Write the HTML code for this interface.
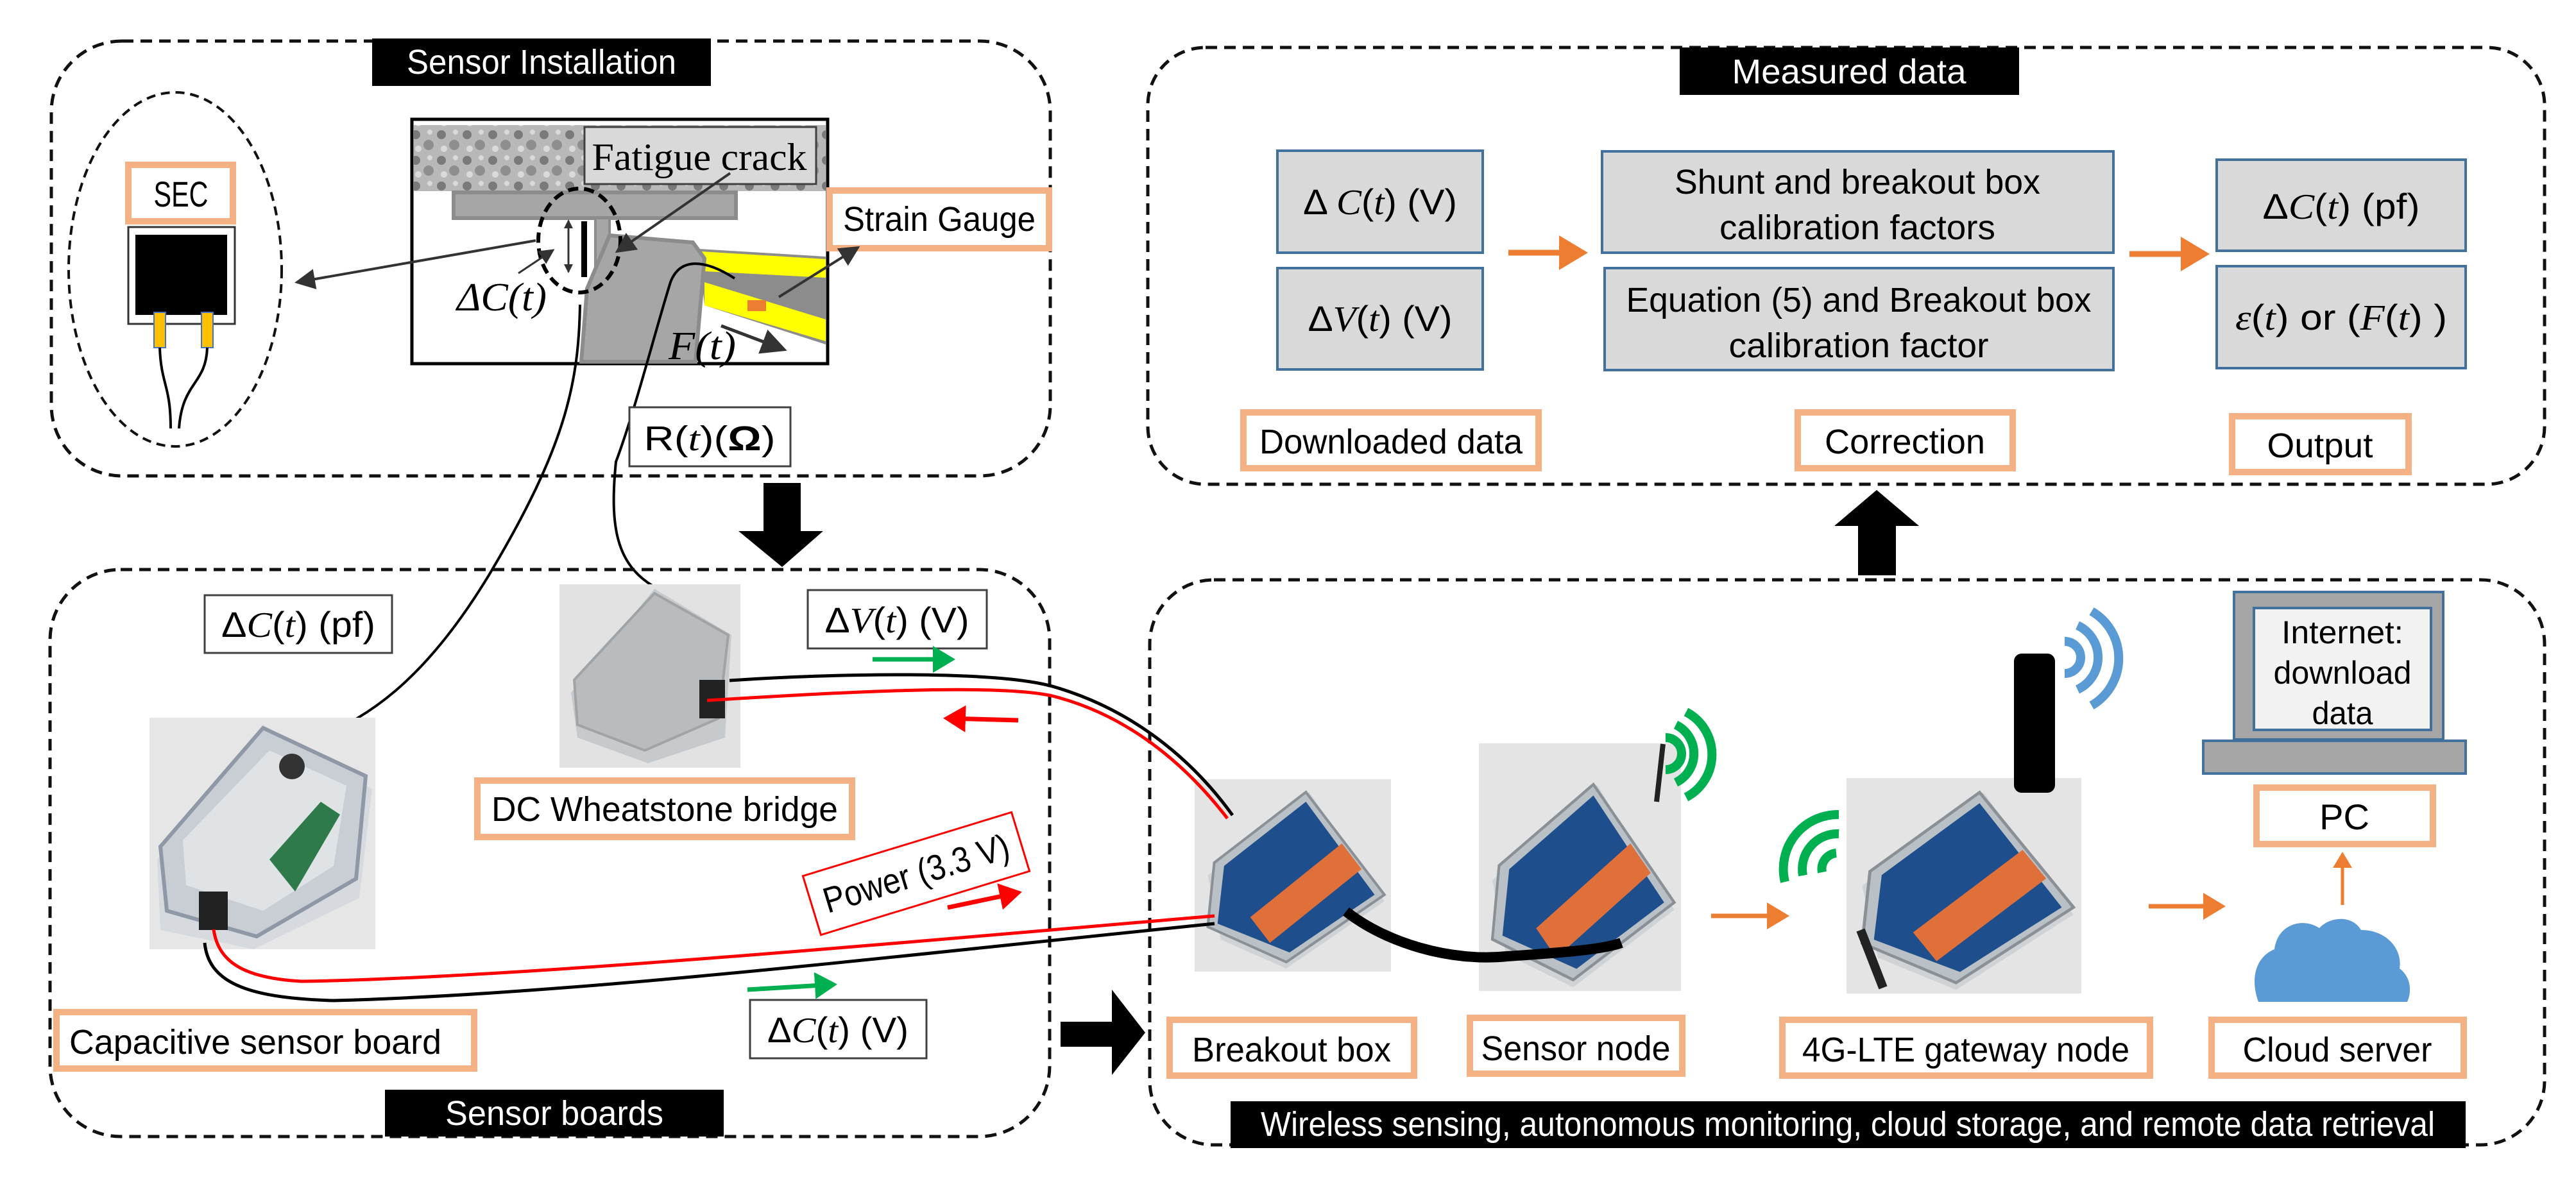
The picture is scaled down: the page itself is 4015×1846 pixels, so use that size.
<!DOCTYPE html>
<html><head><meta charset="utf-8"><style>
html,body{margin:0;padding:0;background:#fff}
svg{display:block}
.s{font-family:"Liberation Sans",sans-serif}
.m{font-family:"Liberation Serif",serif;font-style:italic}
</style></head><body>
<svg width="4015" height="1846" viewBox="0 0 4015 1846" xmlns="http://www.w3.org/2000/svg">
<defs>
<marker id="ah" markerWidth="8" markerHeight="8" refX="7" refY="4" orient="auto" markerUnits="strokeWidth"><path d="M0,0 L8,4 L0,8 z" fill="#333"/></marker>
<marker id="ao" markerWidth="5" markerHeight="6" refX="4" refY="3" orient="auto" markerUnits="strokeWidth"><path d="M0,0 L5,3 L0,6 z" fill="#ed7d31"/></marker>
<marker id="ag" markerWidth="5" markerHeight="6" refX="4" refY="3" orient="auto" markerUnits="strokeWidth"><path d="M0,0 L5,3 L0,6 z" fill="#00b050"/></marker>
<marker id="ar" markerWidth="5" markerHeight="6" refX="4" refY="3" orient="auto" markerUnits="strokeWidth"><path d="M0,0 L5,3 L0,6 z" fill="#ff0000"/></marker>
<pattern id="tex" width="40" height="40" patternUnits="userSpaceOnUse">
<rect width="40" height="40" fill="#b8b8b8"/><circle cx="8" cy="10" r="7" fill="#7a7a7a"/><circle cx="28" cy="26" r="8" fill="#8e8e8e"/><circle cx="30" cy="6" r="4" fill="#d8d8d8"/><circle cx="12" cy="32" r="5" fill="#dadada"/>
</pattern>
<g id="dev">
<rect x="0" y="0" width="300" height="300" fill="#e4e4e4"/>
<polygon points="20,150 175,20 290,190 140,295 40,250" fill="#cfd3d6"/>
<polygon points="30,130 170,20 290,180 140,285 20,230" fill="#b9c0c6" stroke="#8a9096" stroke-width="4"/>
<polygon points="45,135 170,35 275,180 145,270 35,225" fill="#1f4e8c"/>
<polygon points="85,215 225,100 255,140 115,255" fill="#e0703a"/>
</g>
</defs>

<!-- ========== Sensor Installation ========== -->
<rect x="80" y="64" width="1557" height="678" rx="110" fill="none" stroke="#111" stroke-width="5" stroke-dasharray="18,11"/>
<rect x="580" y="60" width="528" height="74" fill="#000"/>
<text x="844" y="115" class="s" font-size="54" fill="#fff" text-anchor="middle" textLength="420" lengthAdjust="spacingAndGlyphs">Sensor Installation</text>

<ellipse cx="273" cy="420" rx="166" ry="276" fill="none" stroke="#111" stroke-width="4" stroke-dasharray="14,9"/>
<rect x="200" y="257" width="163" height="88" fill="#fff" stroke="#f4b183" stroke-width="10"/>
<text x="282" y="322" class="s" font-size="56" text-anchor="middle" textLength="85" lengthAdjust="spacingAndGlyphs">SEC</text>
<rect x="200" y="354" width="166" height="151" fill="#fff" stroke="#333" stroke-width="3"/>
<rect x="211" y="366" width="143" height="125" fill="#000"/>
<rect x="240" y="487" width="18" height="55" fill="#ffc000" stroke="#4472c4" stroke-width="2"/>
<rect x="314" y="487" width="18" height="55" fill="#ffc000" stroke="#4472c4" stroke-width="2"/>
<path d="M249,542 C251,600 266,600 266,668 M323,542 C321,600 284,595 279,668" fill="none" stroke="#000" stroke-width="4"/>

<!-- diagram frame -->
<rect x="642" y="186" width="648" height="381" fill="#fff" stroke="#000" stroke-width="5"/>
<rect x="645" y="195" width="642" height="103" fill="url(#tex)"/>
<rect x="707" y="300" width="440" height="40" fill="#a6a6a6" stroke="#8c8c8c" stroke-width="6"/>
<rect x="928" y="340" width="22" height="225" fill="#a6a6a6" stroke="#8c8c8c" stroke-width="4"/>
<polygon points="1089,388 1287,400 1287,537 1098,476" fill="#8c8c8c"/>
<polygon points="1092,392 1287,404 1287,433 1098,423" fill="#ffff00"/>
<polygon points="1098,440 1287,498 1287,532 1098,476" fill="#ffff00"/>
<polygon points="950,367 1080,378 1098,403 1084,564 906,564 915,450" fill="#a6a6a6" stroke="#8c8c8c" stroke-width="6"/>
<rect x="1165" y="468" width="29" height="17" fill="#ed7d31"/>
<rect x="906" y="345" width="9" height="87" fill="#000"/>
<line x1="886" y1="344" x2="886" y2="424" stroke="#333" stroke-width="3"/>
<path d="M879,356 L886,342 L893,356 Z M879,412 L886,426 L893,412 Z" fill="#333"/>
<ellipse cx="903" cy="375" rx="64" ry="81" fill="none" stroke="#000" stroke-width="6" stroke-dasharray="16,9"/>
<rect x="911" y="198" width="361" height="89" fill="#d9d9d9" stroke="#404040" stroke-width="3"/>
<text x="1090" y="265" font-family="Liberation Serif,serif" font-size="60" text-anchor="middle" textLength="335" lengthAdjust="spacingAndGlyphs">Fatigue crack</text>
<line x1="1138" y1="270" x2="962" y2="392" stroke="#333" stroke-width="4" marker-end="url(#ah)"/>
<text x="712" y="484" class="m" font-size="62" textLength="140" lengthAdjust="spacingAndGlyphs">ΔC(t)</text>
<line x1="808" y1="426" x2="862" y2="390" stroke="#333" stroke-width="3" marker-end="url(#ah)"/>
<text x="1042" y="560" class="m" font-size="62" textLength="105" lengthAdjust="spacingAndGlyphs">F(t)</text>
<line x1="1124" y1="508" x2="1222" y2="545" stroke="#333" stroke-width="5" marker-end="url(#ah)"/>
<line x1="835" y1="375" x2="463" y2="440" stroke="#333" stroke-width="4" marker-end="url(#ah)"/>
<rect x="1293" y="297" width="342" height="90" fill="#fff" stroke="#f4b183" stroke-width="10"/>
<text x="1464" y="360" class="s" font-size="54" text-anchor="middle" textLength="300" lengthAdjust="spacingAndGlyphs">Strain Gauge</text>
<line x1="1214" y1="463" x2="1337" y2="386" stroke="#333" stroke-width="4" marker-end="url(#ah)"/>
<!-- wires from frame -->
<path d="M904,475 C902,600 880,700 760,900 C650,1080 560,1120 500,1150" fill="none" stroke="#000" stroke-width="4"/>
<path d="M1145,434 C1100,405 1060,400 1045,440 C1020,520 990,640 960,720 C950,820 960,880 1020,915" fill="none" stroke="#000" stroke-width="4"/>
<rect x="981" y="635" width="251" height="92" fill="#fff" stroke="#404040" stroke-width="3"/>
<text x="1106" y="702" class="s" font-size="54" text-anchor="middle" textLength="205" lengthAdjust="spacingAndGlyphs">R(<tspan class="m">t</tspan>)(<tspan font-weight="bold">Ω</tspan>)</text>

<!-- black arrow down -->
<polygon points="1190,753 1248,753 1248,828 1283,828 1219,884 1151,828 1190,828" fill="#000"/>

<!-- ========== Measured data ========== -->
<rect x="1789" y="74" width="2177" height="681" rx="90" fill="none" stroke="#111" stroke-width="5" stroke-dasharray="18,11"/>
<rect x="2618" y="74" width="529" height="74" fill="#000"/>
<text x="2882" y="130" class="s" font-size="54" fill="#fff" text-anchor="middle" textLength="365" lengthAdjust="spacingAndGlyphs">Measured data</text>
<g fill="#d9d9d9" stroke="#41719c" stroke-width="4">
<rect x="1991" y="235" width="320" height="159"/>
<rect x="1991" y="418" width="320" height="158"/>
<rect x="2497" y="236" width="797" height="158"/>
<rect x="2501" y="418" width="793" height="159"/>
<rect x="3455" y="249" width="388" height="142"/>
<rect x="3455" y="415" width="388" height="159"/>
</g>
<text x="2151" y="334" class="s" font-size="56" text-anchor="middle" textLength="240" lengthAdjust="spacingAndGlyphs">Δ <tspan class="m">C</tspan>(<tspan class="m">t</tspan>) (V)</text>
<text x="2151" y="516" class="s" font-size="56" text-anchor="middle" textLength="225" lengthAdjust="spacingAndGlyphs">Δ<tspan class="m">V</tspan>(<tspan class="m">t</tspan>) (V)</text>
<text x="2895" y="302" class="s" font-size="54" text-anchor="middle" textLength="570" lengthAdjust="spacingAndGlyphs">Shunt and breakout box</text>
<text x="2895" y="373" class="s" font-size="54" text-anchor="middle" textLength="430" lengthAdjust="spacingAndGlyphs">calibration factors</text>
<text x="2897" y="486" class="s" font-size="54" text-anchor="middle" textLength="725" lengthAdjust="spacingAndGlyphs">Equation (5) and Breakout box</text>
<text x="2897" y="557" class="s" font-size="54" text-anchor="middle" textLength="405" lengthAdjust="spacingAndGlyphs">calibration factor</text>
<text x="3649" y="341" class="s" font-size="56" text-anchor="middle" textLength="245" lengthAdjust="spacingAndGlyphs">Δ<tspan class="m">C</tspan>(<tspan class="m">t</tspan>) (pf)</text>
<text x="3649" y="514" class="s" font-size="56" text-anchor="middle" textLength="330" lengthAdjust="spacingAndGlyphs"><tspan class="m">ε</tspan>(<tspan class="m">t</tspan>) or (<tspan class="m">F</tspan>(<tspan class="m">t</tspan>) )</text>
<line x1="2351" y1="394" x2="2466" y2="394" stroke="#ed7d31" stroke-width="9" marker-end="url(#ao)"/>
<line x1="3319" y1="396" x2="3435" y2="396" stroke="#ed7d31" stroke-width="9" marker-end="url(#ao)"/>
<g fill="#fff" stroke="#f4b183" stroke-width="10">
<rect x="1938" y="643" width="460" height="87"/>
<rect x="2802" y="643" width="335" height="87"/>
<rect x="3479" y="649" width="275" height="87"/>
</g>
<text x="2168" y="707" class="s" font-size="54" text-anchor="middle" textLength="410" lengthAdjust="spacingAndGlyphs">Downloaded data</text>
<text x="2969" y="707" class="s" font-size="54" text-anchor="middle" textLength="250" lengthAdjust="spacingAndGlyphs">Correction</text>
<text x="3616" y="713" class="s" font-size="54" text-anchor="middle" textLength="165" lengthAdjust="spacingAndGlyphs">Output</text>

<!-- up arrow -->
<polygon points="2925,764 2991,820 2955,820 2955,897 2896,897 2896,820 2859,820" fill="#000"/>

<!-- ========== Sensor boards ========== -->
<rect x="78" y="888" width="1558" height="884" rx="110" fill="none" stroke="#111" stroke-width="5" stroke-dasharray="18,11"/>
<rect x="600" y="1699" width="528" height="73" fill="#000"/>
<text x="864" y="1754" class="s" font-size="54" fill="#fff" text-anchor="middle" textLength="340" lengthAdjust="spacingAndGlyphs">Sensor boards</text>
<rect x="319" y="928" width="292" height="90" fill="#fff" stroke="#404040" stroke-width="3"/>
<text x="465" y="993" class="s" font-size="56" text-anchor="middle" textLength="240" lengthAdjust="spacingAndGlyphs">Δ<tspan class="m">C</tspan>(<tspan class="m">t</tspan>) (pf)</text>

<!-- capacitive photo -->
<rect x="233" y="1119" width="352" height="361" fill="#e6e6e6"/>
<polygon points="245,1340 410,1130 580,1230 560,1400 395,1480 250,1450" fill="#d6dade"/>
<polygon points="250,1320 410,1135 570,1210 555,1370 400,1460 260,1420" fill="#c8ced4" stroke="#8e98a6" stroke-width="6"/>
<polygon points="285,1310 420,1170 540,1225 520,1350 410,1420 290,1380" fill="#dfe3e6"/>
<polygon points="420,1340 500,1250 530,1270 460,1390" fill="#2f7a4a"/>
<rect x="310" y="1390" width="45" height="60" fill="#222"/>
<circle cx="455" cy="1195" r="20" fill="#333"/>
<!-- wheatstone photo -->
<rect x="872" y="911" width="282" height="286" fill="#e2e2e2"/>
<polygon points="890,1080 1020,918 1140,990 1130,1150 1010,1190 900,1150" fill="#c7cacc"/>
<polygon points="895,1060 1020,925 1135,990 1120,1120 1005,1170 900,1130" fill="#b8bcbf" stroke="#a0a4a7" stroke-width="4"/>
<rect x="1090" y="1060" width="40" height="60" fill="#222"/>
<rect x="744" y="1217" width="584" height="88" fill="#fff" stroke="#f4b183" stroke-width="10"/>
<text x="1036" y="1280" class="s" font-size="54" text-anchor="middle" textLength="540" lengthAdjust="spacingAndGlyphs">DC Wheatstone bridge</text>

<rect x="1259" y="920" width="279" height="91" fill="#fff" stroke="#404040" stroke-width="3"/>
<text x="1398" y="986" class="s" font-size="56" text-anchor="middle" textLength="225" lengthAdjust="spacingAndGlyphs">Δ<tspan class="m">V</tspan>(<tspan class="m">t</tspan>) (V)</text>
<line x1="1360" y1="1028" x2="1482" y2="1028" stroke="#00b050" stroke-width="7" marker-end="url(#ag)"/>
<line x1="1587" y1="1123" x2="1477" y2="1120" stroke="#ff0000" stroke-width="7" marker-end="url(#ar)"/>

<g transform="translate(1428,1362) rotate(-17)">
<rect x="-170" y="-48" width="340" height="96" fill="#fff" stroke="#ff0000" stroke-width="3"/>
<text x="0" y="19" class="s" font-size="56" text-anchor="middle" textLength="300" lengthAdjust="spacingAndGlyphs">Power (3.3 V)</text>
</g>
<line x1="1477" y1="1415" x2="1586" y2="1392" stroke="#ff0000" stroke-width="7" marker-end="url(#ar)"/>
<line x1="1165" y1="1543" x2="1298" y2="1535" stroke="#00b050" stroke-width="7" marker-end="url(#ag)"/>
<rect x="1169" y="1559" width="275" height="91" fill="#fff" stroke="#404040" stroke-width="3"/>
<text x="1306" y="1625" class="s" font-size="56" text-anchor="middle" textLength="220" lengthAdjust="spacingAndGlyphs">Δ<tspan class="m">C</tspan>(<tspan class="m">t</tspan>) (V)</text>
<rect x="88" y="1578" width="651" height="88" fill="#fff" stroke="#f4b183" stroke-width="10"/>
<text x="108" y="1643" class="s" font-size="54" textLength="580" lengthAdjust="spacingAndGlyphs">Capacitive sensor board</text>

<!-- right arrow -->
<polygon points="1653,1593 1733,1593 1733,1543 1785,1610 1733,1676 1733,1632 1653,1632" fill="#000"/>

<!-- ========== Wireless ========== -->
<rect x="1792" y="904" width="2174" height="881" rx="100" fill="none" stroke="#111" stroke-width="5" stroke-dasharray="18,11"/>
<rect x="1918" y="1717" width="1925" height="73" fill="#000"/>
<text x="2880" y="1771" class="s" font-size="54" fill="#fff" text-anchor="middle" textLength="1830" lengthAdjust="spacingAndGlyphs">Wireless sensing, autonomous monitoring, cloud storage, and remote data retrieval</text>

<use href="#dev" transform="translate(1862,1215) scale(1.02,1.0)"/>
<use href="#dev" transform="translate(2305,1200) scale(1.05,1.15)"/>
<use href="#dev" transform="translate(2878,1213) scale(1.22,1.12)"/>
<rect x="2305" y="1159" width="315" height="45" fill="#e4e4e4"/>
<line x1="2592" y1="1160" x2="2582" y2="1250" stroke="#222" stroke-width="8"/>
<rect x="3139" y="1019" width="64" height="217" rx="12" fill="#000"/>
<line x1="2900" y1="1450" x2="2935" y2="1540" stroke="#222" stroke-width="14"/>

<!-- cables -->
<path d="M1137,1061 C1300,1050 1550,1045 1640,1070 C1780,1110 1870,1200 1921,1271" fill="none" stroke="#000" stroke-width="5"/>
<path d="M1102,1092 C1300,1080 1550,1065 1640,1085 C1780,1120 1870,1220 1913,1276" fill="none" stroke="#ff0000" stroke-width="5"/>
<path d="M333,1449 C340,1500 380,1525 470,1530 C800,1525 1400,1470 1893,1428" fill="none" stroke="#ff0000" stroke-width="5"/>
<path d="M319,1470 C325,1530 380,1556 520,1560 C900,1550 1400,1490 1893,1440" fill="none" stroke="#000" stroke-width="5"/>
<path d="M2098,1421 C2160,1470 2260,1500 2349,1491 C2440,1485 2500,1480 2527,1470" fill="none" stroke="#000" stroke-width="16"/>

<!-- waves -->
<g fill="none" stroke="#00b050" stroke-width="14">
<path d="M2596,1150 A25,25 0 0 1 2596,1200"/>
<path d="M2612,1130 A50,50 0 0 1 2612,1220"/>
<path d="M2628,1110 A75,75 0 0 1 2628,1243"/>
<path d="M2862,1330 A25,25 0 0 0 2840,1360"/>
<path d="M2866,1300 A55,55 0 0 0 2810,1365"/>
<path d="M2866,1270 A85,85 0 0 0 2782,1375"/>
</g>
<g fill="none" stroke="#5b9bd5" stroke-width="14">
<path d="M3218,1000 A25,25 0 0 1 3218,1050"/>
<path d="M3238,975 A55,55 0 0 1 3238,1075"/>
<path d="M3260,953 A85,85 0 0 1 3260,1100"/>
</g>

<!-- laptop -->
<rect x="3482" y="923" width="326" height="230" fill="#a6a6a6" stroke="#41719c" stroke-width="4"/>
<rect x="3513" y="948" width="276" height="190" fill="#f2f2f2" stroke="#41719c" stroke-width="4"/>
<text x="3651" y="1003" class="s" font-size="50" text-anchor="middle" textLength="190" lengthAdjust="spacingAndGlyphs">Internet:</text>
<text x="3651" y="1066" class="s" font-size="50" text-anchor="middle" textLength="215" lengthAdjust="spacingAndGlyphs">download</text>
<text x="3651" y="1129" class="s" font-size="50" text-anchor="middle" textLength="95" lengthAdjust="spacingAndGlyphs">data</text>
<rect x="3434" y="1155" width="409" height="51" fill="#a6a6a6" stroke="#41719c" stroke-width="4"/>
<rect x="3517" y="1228" width="275" height="88" fill="#fff" stroke="#f4b183" stroke-width="10"/>
<text x="3654" y="1293" class="s" font-size="56" text-anchor="middle">PC</text>
<line x1="3651" y1="1411" x2="3651" y2="1333" stroke="#ed7d31" stroke-width="5" marker-end="url(#ao)"/>
<!-- cloud -->
<path d="M3520,1562 C3505,1520 3520,1490 3545,1480 C3550,1440 3590,1430 3615,1447 C3630,1430 3665,1425 3680,1450 C3720,1450 3745,1480 3740,1510 C3760,1525 3758,1550 3752,1562 Z" fill="#5b9bd5"/>
<line x1="3349" y1="1413" x2="3462" y2="1413" stroke="#ed7d31" stroke-width="7" marker-end="url(#ao)"/>
<line x1="2667" y1="1428" x2="2782" y2="1428" stroke="#ed7d31" stroke-width="7" marker-end="url(#ao)"/>

<g fill="#fff" stroke="#f4b183" stroke-width="10">
<rect x="1823" y="1590" width="381" height="87"/>
<rect x="2291" y="1587" width="331" height="87"/>
<rect x="2778" y="1590" width="573" height="87"/>
<rect x="3447" y="1590" width="393" height="87"/>
</g>
<text x="2013" y="1655" class="s" font-size="54" text-anchor="middle" textLength="310" lengthAdjust="spacingAndGlyphs">Breakout box</text>
<text x="2456" y="1653" class="s" font-size="54" text-anchor="middle" textLength="295" lengthAdjust="spacingAndGlyphs">Sensor node</text>
<text x="3064" y="1655" class="s" font-size="54" text-anchor="middle" textLength="510" lengthAdjust="spacingAndGlyphs">4G-LTE gateway node</text>
<text x="3643" y="1655" class="s" font-size="54" text-anchor="middle" textLength="295" lengthAdjust="spacingAndGlyphs">Cloud server</text>
</svg>
</body></html>
